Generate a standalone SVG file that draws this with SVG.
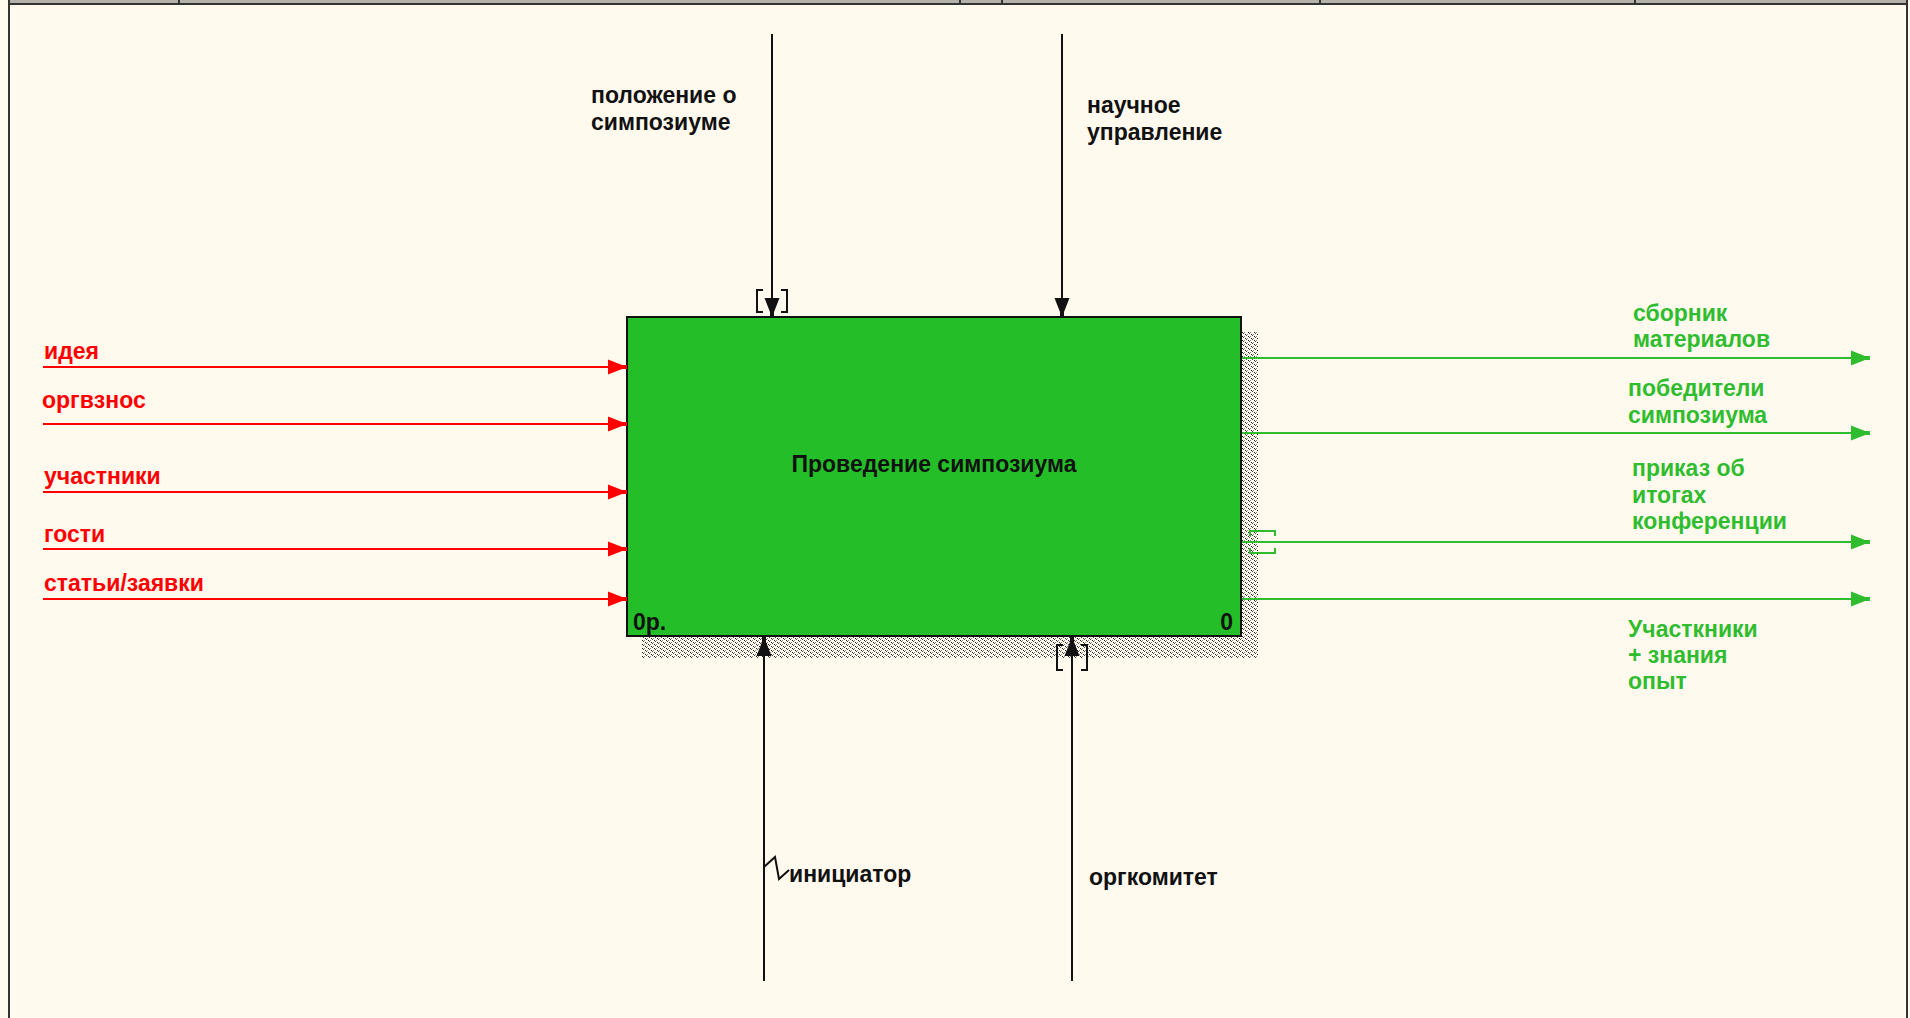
<svg xmlns="http://www.w3.org/2000/svg" width="1910" height="1018" viewBox="0 0 1910 1018">
<style>
text{font-family:"Liberation Sans",Arial,sans-serif;font-weight:bold;font-size:23px}
.blk{fill:#111}
.red{fill:#ff0000}
.grn{fill:#2fbd2f}
.ln{fill:none;stroke-width:2}
.lb{stroke:#111}
.lr{stroke:#ff0000}
.lg{stroke:#2fbd2f}
.br{fill:none;stroke-width:2}
</style>
<defs>
<pattern id="hatch" width="6" height="4" patternUnits="userSpaceOnUse">
<rect x="0" y="0" width="1" height="1" fill="#222"/>
<rect x="1" y="1" width="1" height="1" fill="#444"/>
<rect x="3" y="2" width="1" height="1" fill="#222"/>
<rect x="4" y="3" width="1" height="1" fill="#444"/>
<rect x="2" y="0" width="1" height="1" fill="#888"/>
<rect x="5" y="2" width="1" height="1" fill="#888"/>
</pattern>
<marker id="aBlk" markerUnits="userSpaceOnUse" markerWidth="22" markerHeight="18" viewBox="-21 -9 22 18" refX="0" refY="0" orient="auto"><polygon points="-19,-7.5 -5,-2 0,-2 0,2 -5,2 -19,7.5" fill="#111"/></marker>
<marker id="aRed" markerUnits="userSpaceOnUse" markerWidth="22" markerHeight="18" viewBox="-21 -9 22 18" refX="0" refY="0" orient="auto"><polygon points="-19,-7.5 -5,-2 0,-2 0,2 -5,2 -19,7.5" fill="#ff0000"/></marker>
<marker id="aGrn" markerUnits="userSpaceOnUse" markerWidth="22" markerHeight="18" viewBox="-21 -9 22 18" refX="0" refY="0" orient="auto"><polygon points="-19,-7.5 -5,-2 0,-2 0,2 -5,2 -19,7.5" fill="#2fbd2f"/></marker>
</defs>
<rect x="0" y="0" width="1910" height="1018" fill="#fff9ee"/>
<g id="frame">
<rect x="9" y="-10" width="1898" height="14" fill="#b4b2a8" stroke="#333" stroke-width="2"/>
<path d="M179,0V4M960,0V4M1002,0V4M1320,0V4M1635,0V4" stroke="#333" stroke-width="2"/>
<path d="M9,4V1018M1907,4V1018" stroke="#333" stroke-width="2" fill="none"/>
</g>
<g id="node-A0">
<rect x="1242" y="332" width="16" height="326" fill="url(#hatch)"/>
<rect x="642" y="637" width="616" height="21" fill="url(#hatch)"/>
<rect x="627" y="317" width="614" height="319" fill="#24bf28" stroke="#111" stroke-width="2"/>
<text x="934" y="472" text-anchor="middle" class="blk">Проведение симпозиума</text>
<text x="633" y="630" class="blk" font-size="21">0р.</text>
<text x="1233" y="630" class="blk" text-anchor="end" font-size="21">0</text>
</g>
<g id="connectors">
<line class="ln lr" x1="43" y1="367" x2="627" y2="367" marker-end="url(#aRed)"/>
<line class="ln lr" x1="43" y1="424" x2="627" y2="424" marker-end="url(#aRed)"/>
<line class="ln lr" x1="43" y1="492" x2="627" y2="492" marker-end="url(#aRed)"/>
<line class="ln lr" x1="43" y1="549" x2="627" y2="549" marker-end="url(#aRed)"/>
<line class="ln lr" x1="43" y1="599" x2="627" y2="599" marker-end="url(#aRed)"/>
<line class="ln lb" x1="772" y1="34" x2="772" y2="317" marker-end="url(#aBlk)"/>
<line class="ln lb" x1="1062" y1="34" x2="1062" y2="317" marker-end="url(#aBlk)"/>
<line class="ln lb" x1="764" y1="981" x2="764" y2="637" marker-end="url(#aBlk)"/>
<line class="ln lb" x1="1072" y1="981" x2="1072" y2="637" marker-end="url(#aBlk)"/>
<line class="ln lg" x1="1242" y1="358" x2="1870" y2="358" marker-end="url(#aGrn)"/>
<line class="ln lg" x1="1242" y1="433" x2="1870" y2="433" marker-end="url(#aGrn)"/>
<line class="ln lg" x1="1242" y1="542" x2="1870" y2="542" marker-end="url(#aGrn)"/>
<line class="ln lg" x1="1242" y1="599" x2="1870" y2="599" marker-end="url(#aGrn)"/>
<path class="br lb" d="M763,290H757V312H763M781,290H787V312H781"/>
<path class="br lb" d="M1063,645H1057V670H1063M1081,645H1087V670H1081"/>
<path class="br lg" d="M1250,536V531H1275V536M1250,548V553H1275V548"/>
<path class="br lb" d="M764,867L775,857L779,879L789,870"/>
</g>
<g id="labels">
<text x="44" y="359" class="red">идея</text>
<text x="42" y="408" class="red">оргвзнос</text>
<text x="44" y="484" class="red">участники</text>
<text x="44" y="542" class="red">гости</text>
<text x="44" y="591" class="red">статьи/заявки</text>
<text x="591" y="103" class="blk">положение о</text>
<text x="591" y="130" class="blk">симпозиуме</text>
<text x="1087" y="113" class="blk">научное</text>
<text x="1087" y="140" class="blk">управление</text>
<text x="789" y="882" class="blk">инициатор</text>
<text x="1089" y="885" class="blk">оргкомитет</text>
<text x="1633" y="321" class="grn">сборник</text>
<text x="1633" y="347" class="grn">материалов</text>
<text x="1628" y="396" class="grn">победители</text>
<text x="1628" y="423" class="grn">симпозиума</text>
<text x="1632" y="476" class="grn">приказ об</text>
<text x="1632" y="503" class="grn">итогах</text>
<text x="1632" y="529" class="grn">конференции</text>
<text x="1628" y="637" class="grn">Участкники</text>
<text x="1628" y="663" class="grn">+ знания</text>
<text x="1628" y="689" class="grn">опыт</text>
</g>
</svg>
